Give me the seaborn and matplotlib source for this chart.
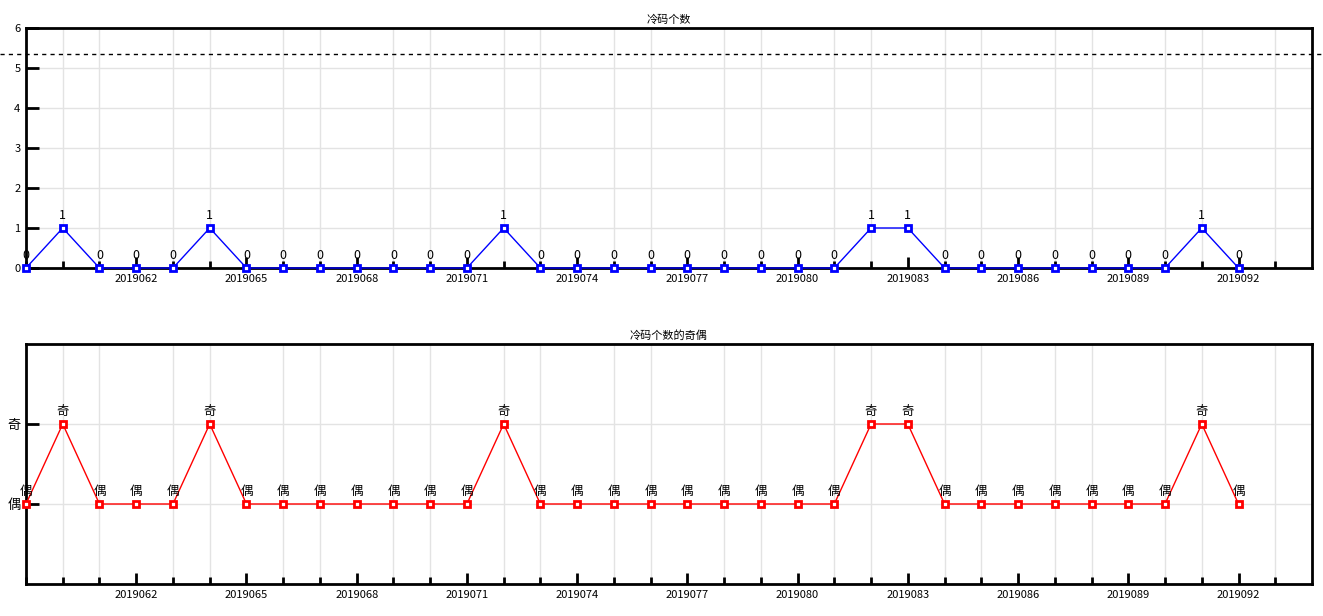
import matplotlib
matplotlib.use("Agg")
import matplotlib.pyplot as plt
import seaborn as sns
import pandas as pd
from matplotlib.ticker import FixedLocator

periods = [f"2019{n:03d}" for n in range(59, 93)]
cold_counts = [0, 1, 0, 0, 0, 1, 0, 0, 0, 0, 0, 0, 0, 1, 0, 0, 0, 0, 0, 0,
               0, 0, 0, 1, 1, 0, 0, 0, 0, 0, 0, 0, 1, 0]
parity = ["偶", "奇", "偶", "偶", "偶", "奇", "偶", "偶", "偶", "偶", "偶", "偶", "偶", "奇",
          "偶", "偶", "偶", "偶", "偶", "偶", "偶", "偶", "偶", "奇", "奇", "偶", "偶", "偶",
          "偶", "偶", "偶", "偶", "奇", "偶"]
parity_levels = ["偶", "奇"]
ref_level = 5.35
titles = ["冷码个数", "冷码个数的奇偶"]

sns.set_style("white")
plt.rcParams["font.family"] = ["Noto Sans CJK SC", "DejaVu Sans"]
plt.rcParams["text.color"] = "black"
plt.rcParams["xtick.color"] = "black"
plt.rcParams["ytick.color"] = "black"
plt.rcParams["axes.titlecolor"] = "black"

df = pd.DataFrame({"idx": range(len(periods)), "period": periods,
                   "count": cold_counts,
                   "parity": [parity_levels.index(p) for p in parity],
                   "plabel": parity})

fig = plt.figure(figsize=(13.23, 6.16), dpi=100)
W = 1323; H = 616
def pos(l, t, r, b):
    return [l / W, 1 - b / H, (r - l) / W, (b - t) / H]

ax1 = fig.add_axes(pos(26, 28, 1312, 268))
ax2 = fig.add_axes(pos(26, 344, 1312, 584))

n = len(periods)
for ax, col, color, labels in [(ax1, "count", "blue", [str(v) for v in cold_counts]),
                               (ax2, "parity", "red", parity)]:
    sns.lineplot(data=df, x="idx", y=col, ax=ax, color=color, linewidth=1,
                 marker="s", markersize=5, markerfacecolor="white",
                 markeredgecolor=color, markeredgewidth=2, zorder=5, clip_on=False)
    for i, (xv, yv) in enumerate(zip(df["idx"], df[col])):
        ax.annotate(labels[i], (xv, yv), xytext=(0, 4), textcoords="offset points",
                    ha="center", va="bottom", fontsize=9, color="black", zorder=6)
    ax.set_xlim(0, 35)
    ax.set_xticks(list(range(3, n, 3)))
    ax.set_xticklabels([periods[i] for i in range(3, n, 3)])
    ax.xaxis.set_minor_locator(FixedLocator(list(range(0, 35))))
    ax.tick_params(axis="x", which="major", direction="in", length=8, width=2,
                   labelsize=8, pad=4, bottom=True, colors="black")
    ax.tick_params(axis="x", which="minor", direction="in", length=5, width=2, bottom=True,
                   colors="black")
    ax.tick_params(axis="y", which="major", direction="in", length=9, width=2,
                   labelsize=8, pad=4, left=True, colors="black")
    ax.grid(True, which="minor", axis="x", color="#e3e3e3", linewidth=1, zorder=0)
    ax.grid(True, which="major", axis="y", color="#e3e3e3", linewidth=1, zorder=0)
    ax.set_axisbelow(True)
    for s in ax.spines.values():
        s.set_visible(True)
        s.set_color("black")
        s.set_linewidth(2)
    ax.set_xlabel("")
    ax.set_ylabel("")

ax1.set_ylim(0, 6)
ax1.set_yticks(range(0, 7))
ax1.set_title(titles[0], fontsize=8, pad=4, color="black")
xmin = -26 / 1286
xmax = (1323 - 26) / 1286
ax1.axhline(ref_level, xmin=xmin, xmax=xmax, color="black", linestyle=(0, (3, 3)),
            linewidth=1, clip_on=False, zorder=3)

ax2.set_ylim(-1, 2)
ax2.set_yticks([0, 1])
ax2.set_yticklabels(parity_levels, fontsize=9.5)
ax2.set_title(titles[1], fontsize=8, pad=4, color="black")

fig.savefig("out.png", dpi=100)
